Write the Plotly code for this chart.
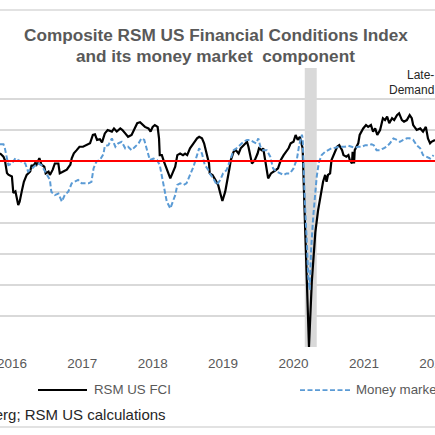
import plotly.graph_objects as go

# ---- data (decimal years, index values) ----
fci_x = [2015.83, 2015.88, 2015.90, 2015.93, 2015.95, 2016.00, 2016.02, 2016.05, 2016.09, 2016.11,
         2016.14, 2016.17, 2016.21, 2016.26, 2016.28, 2016.30, 2016.33, 2016.35, 2016.39, 2016.42,
         2016.46, 2016.48, 2016.52, 2016.54, 2016.58, 2016.61, 2016.66, 2016.68, 2016.73, 2016.78,
         2016.81, 2016.83, 2016.85, 2016.88, 2016.92, 2016.96, 2017.01, 2017.06, 2017.11, 2017.15,
         2017.18, 2017.21, 2017.25, 2017.28, 2017.32, 2017.36, 2017.42, 2017.45, 2017.49, 2017.54,
         2017.57, 2017.61, 2017.65, 2017.70, 2017.75, 2017.78, 2017.82, 2017.86, 2017.89, 2017.94,
         2017.97, 2018.00, 2018.03, 2018.07, 2018.09, 2018.10, 2018.13, 2018.16, 2018.20, 2018.25,
         2018.28, 2018.32, 2018.35, 2018.39, 2018.43, 2018.46, 2018.49, 2018.53, 2018.58, 2018.63,
         2018.66, 2018.70, 2018.73, 2018.77, 2018.80, 2018.81, 2018.85, 2018.89, 2018.93, 2018.96,
         2018.99, 2019.03, 2019.06, 2019.09, 2019.11, 2019.15, 2019.18, 2019.22, 2019.25, 2019.29,
         2019.34, 2019.36, 2019.38, 2019.41, 2019.45, 2019.49, 2019.51, 2019.55, 2019.57, 2019.60,
         2019.62, 2019.64, 2019.68, 2019.71, 2019.75, 2019.78, 2019.82, 2019.86, 2019.89, 2019.93,
         2019.96, 2020.00, 2020.03, 2020.06, 2020.09, 2020.11, 2020.13, 2020.16, 2020.19, 2020.21,
         2020.22, 2020.26, 2020.31, 2020.35, 2020.40, 2020.42, 2020.45, 2020.47, 2020.49, 2020.52,
         2020.54, 2020.57, 2020.59, 2020.62, 2020.65, 2020.69, 2020.71, 2020.75, 2020.78, 2020.80,
         2020.83, 2020.84, 2020.86, 2020.87, 2020.92, 2020.94, 2020.99, 2021.03, 2021.06, 2021.10,
         2021.13, 2021.16, 2021.19, 2021.23, 2021.27, 2021.30, 2021.33, 2021.36, 2021.40, 2021.43,
         2021.47, 2021.50, 2021.54, 2021.57, 2021.61, 2021.65, 2021.68, 2021.70, 2021.75, 2021.80,
         2021.84, 2021.88, 2021.91, 2021.94, 2021.96, 2022.01]
fci_y = [0.25, 0.14, 0.03, -0.39, -0.44, -0.50, -1.03, -0.98, -1.42, -1.31,
         -0.98, -0.67, -0.45, -0.34, -0.13, -0.18, -0.07, -0.12, 0.09, -0.12,
         -0.18, -0.40, -0.34, -0.45, -0.28, -0.08, -0.08, -0.40, -0.34, -0.28,
         -0.18, -0.12, 0.09, 0.25, 0.35, 0.46, 0.46, 0.52, 0.57, 0.84,
         0.86, 0.68, 0.70, 0.60, 0.89, 1.00, 0.95, 1.05, 0.95, 1.05,
         1.00, 0.89, 0.78, 0.84, 1.10, 1.22, 1.25, 1.16, 1.10, 1.05,
         0.95, 1.10, 1.16, 1.10, 0.73, 0.19, 0.19, -0.02, -0.24, -0.56,
         -0.40, -0.18, 0.19, 0.24, 0.19, 0.24, 0.19, 0.41, 0.57, 0.73,
         0.78, 0.73, 0.57, 0.15, -0.08, -0.40, -0.45, -0.61, -0.77, -1.04,
         -1.29, -0.99, -0.67, -0.24, 0.03, 0.30, 0.35, 0.24, 0.41, 0.51,
         0.62, 0.46, 0.19, -0.08, 0.03, 0.24, 0.41, 0.35, 0.41, 0.03,
         -0.34, -0.56, -0.40, -0.34, -0.29, -0.24, 0.03, 0.19, 0.30, 0.41,
         0.57, 0.62, 0.84, 0.68, 0.78, 0.62, 0.41, -1.80, -3.90, -5.60,
         -6.00, -3.90, -2.30, -1.58, -0.83, -0.67, -0.45, -0.67, -0.45, -0.40,
         0.03, 0.19, 0.35, 0.46, 0.51, 0.35, 0.19, 0.14, 0.19, 0.03,
         -0.08, 0.30, -0.08, 0.35, 0.57, 0.84, 1.05, 1.16, 1.10, 1.16,
         0.95, 1.05, 0.84, 1.00, 1.38, 1.32, 1.43, 1.22, 1.38, 1.32,
         1.48, 1.54, 1.32, 1.27, 1.32, 1.48, 1.38, 1.16, 1.00, 1.05,
         0.95, 1.10, 0.73, 0.57, 0.62, 0.68]

mm_x = [2015.83, 2015.88, 2015.90, 2015.95, 2016.00, 2016.05, 2016.09, 2016.14, 2016.19, 2016.23,
        2016.28, 2016.33, 2016.37, 2016.42, 2016.49, 2016.54, 2016.56, 2016.61, 2016.66, 2016.71,
        2016.75, 2016.80, 2016.85, 2016.90, 2016.94, 2016.99, 2017.04, 2017.09, 2017.13, 2017.16,
        2017.20, 2017.25, 2017.30, 2017.32, 2017.37, 2017.42, 2017.47, 2017.51, 2017.56, 2017.61,
        2017.65, 2017.70, 2017.75, 2017.80, 2017.84, 2017.88, 2017.92, 2017.96, 2018.01, 2018.06,
        2018.10, 2018.15, 2018.20, 2018.25, 2018.28, 2018.32, 2018.35, 2018.39, 2018.44, 2018.48,
        2018.53, 2018.58, 2018.63, 2018.66, 2018.70, 2018.74, 2018.79, 2018.81, 2018.86, 2018.91,
        2018.96, 2019.00, 2019.05, 2019.10, 2019.15, 2019.19, 2019.24, 2019.29, 2019.34, 2019.38,
        2019.43, 2019.47, 2019.50, 2019.53, 2019.57, 2019.62, 2019.67, 2019.71, 2019.76, 2019.81,
        2019.86, 2019.90, 2019.95, 2020.00, 2020.05, 2020.08, 2020.12, 2020.13, 2020.14, 2020.16,
        2020.19, 2020.21, 2020.23, 2020.25, 2020.28, 2020.33, 2020.36, 2020.40, 2020.45, 2020.49,
        2020.54, 2020.59, 2020.64, 2020.69, 2020.73, 2020.78, 2020.83, 2020.87, 2020.92, 2020.97,
        2021.02, 2021.06, 2021.11, 2021.14, 2021.18, 2021.23, 2021.28, 2021.32, 2021.37, 2021.42,
        2021.47, 2021.51, 2021.56, 2021.61, 2021.65, 2021.70, 2021.75, 2021.80, 2021.84, 2021.89,
        2021.94, 2021.99]
mm_y = [0.54, 0.54, 0.41, -0.13, -0.08, 0.09, 0.03, -0.02, -0.08, -0.34,
        -0.24, -0.13, -0.08, -0.13, -0.40, -0.61, -0.99, -1.10, -1.05, -1.31,
        -1.10, -0.99, -0.72, -0.67, -0.61, -0.72, -0.72, -0.72, -0.67, -0.24,
        -0.02, 0.03, 0.22, 0.48, 0.51, 0.73, 0.46, 0.57, 0.62, 0.41,
        0.46, 0.35, 0.46, 0.57, 0.73, 0.68, 0.35, 0.03, 0.08, 0.03,
        -0.13, -0.67, -1.31, -1.53, -1.37, -1.10, -0.77, -0.72, -0.77, -0.72,
        -0.45, -0.18, 0.19, 0.41, 0.24, -0.13, -0.29, -0.40, -0.56, -0.77,
        -0.61, -0.40, -0.29, 0.03, 0.35, 0.41, 0.51, 0.62, 0.68, 0.68,
        0.62, 0.57, 0.73, 0.46, 0.35, 0.35, 0.14, -0.24, -0.34, -0.40,
        -0.45, -0.40, -0.40, -0.24, 0.08, 0.51, 0.85, 0.73, -0.07, -1.26,
        -2.65, -3.73, -4.16, -2.87, -1.80, -0.50, -0.05, 0.19, 0.30, 0.35,
        0.41, 0.43, 0.46, 0.46, 0.46, 0.49, 0.46, 0.43, 0.46, 0.46,
        0.51, 0.51, 0.54, 0.51, 0.35, 0.35, 0.41, 0.46, 0.57, 0.73,
        0.68, 0.62, 0.68, 0.73, 0.73, 0.68, 0.51, 0.41, 0.19, 0.14,
        0.08, 0.19]

year_ticks = [2016, 2017, 2018, 2019, 2020, 2021, 2022]
year_labels = ["2016", "2017", "2018", "2019", "2020", "2021", "2022"]
recession = [2020.16, 2020.33]
x_range = [2015.831, 2022.01]
y_range = [-6, 3]

GRAY = "#595959"
GRID = "#d9d9d9"
BLUE = "#5b9bd5"
FONT = "Liberation Sans, Arial, sans-serif"

fig = go.Figure()
fig.add_trace(go.Scatter(x=fci_x, y=fci_y, mode="lines", name="RSM US FCI",
                         line=dict(color="#000000", width=2.2)))
fig.add_trace(go.Scatter(x=mm_x, y=mm_y, mode="lines", name="Money market",
                         line=dict(color=BLUE, width=2, dash="5px,2.5px")))

# recession shading
fig.add_shape(type="rect", xref="x", yref="paper", x0=recession[0], x1=recession[1], y0=0, y1=1,
              fillcolor=GRID, line=dict(width=0), layer="below")
# zero line
fig.add_shape(type="line", xref="paper", yref="y", x0=0, x1=1, y0=0, y1=0,
              line=dict(color="#ff0000", width=2))
# outer frame lines (top/bottom)
fig.add_shape(type="line", xref="paper", yref="paper", x0=0, x1=1, y0=(347-10)/279, y1=(347-10)/279,
              line=dict(color=GRID, width=1.5))
fig.add_shape(type="line", xref="paper", yref="paper", x0=0, x1=1, y0=(347-427)/279, y1=(347-427)/279,
              line=dict(color=GRID, width=1.5))

def px_x(p):
    return p / 435.0

def px_y(p):
    return (347 - p) / 279.0

# title
fig.add_annotation(text="<b>Composite RSM US Financial Conditions Index</b>", xref="paper", yref="paper",
                   x=px_x(215.5), y=px_y(35), xanchor="center", yanchor="middle", showarrow=False,
                   font=dict(family=FONT, size=17.2, color=GRAY))
fig.add_annotation(text="<b>and its money market  component</b>", xref="paper", yref="paper",
                   x=px_x(215.5), y=px_y(56), xanchor="center", yanchor="middle", showarrow=False,
                   font=dict(family=FONT, size=17.2, color=GRAY))
# Late- / Demand
fig.add_annotation(text="Late-", xref="paper", yref="paper", x=px_x(435), y=px_y(83),
                   xanchor="right", yanchor="bottom", showarrow=False, borderpad=0,
                   font=dict(family=FONT, size=12, color="#262626"))
fig.add_annotation(text="Demand", xref="paper", yref="paper", x=px_x(435), y=px_y(82),
                   xanchor="right", yanchor="top", showarrow=False, borderpad=0,
                   font=dict(family=FONT, size=12, color="#262626"))

# legend (manual)
fig.add_shape(type="line", xref="paper", yref="paper", x0=px_x(38), x1=px_x(87), y0=px_y(390), y1=px_y(390),
              line=dict(color="#000000", width=2))
fig.add_annotation(text="RSM US FCI", xref="paper", yref="paper", x=px_x(92), y=px_y(389),
                   xanchor="left", yanchor="middle", showarrow=False,
                   font=dict(family=FONT, size=13.3, color=GRAY))
fig.add_shape(type="line", xref="paper", yref="paper", x0=px_x(300), x1=px_x(350), y0=px_y(390), y1=px_y(390),
              line=dict(color=BLUE, width=1.75, dash="5px,2.5px"))
fig.add_annotation(text="Money market", xref="paper", yref="paper", x=px_x(354), y=px_y(389),
                   xanchor="left", yanchor="middle", showarrow=False,
                   font=dict(family=FONT, size=13.3, color=GRAY))
# source
fig.add_annotation(text="Source: Bloomberg; RSM US calculations", xref="paper", yref="paper",
                   x=px_x(168), y=px_y(414), xanchor="right", yanchor="middle", showarrow=False,
                   font=dict(family=FONT, size=15, color="#262626"))

fig.update_layout(
    width=435, height=435,
    margin=dict(l=0, r=0, t=68, b=88, pad=0, autoexpand=False),
    paper_bgcolor="white", plot_bgcolor="white",
    showlegend=False,
    xaxis=dict(range=x_range, tickvals=year_ticks, ticktext=year_labels, showgrid=False,
               zeroline=False, showline=False, ticks="", ticklabeloverflow="allow", automargin=False,
               tickfont=dict(family=FONT, size=13.5, color=GRAY), ticklabelstandoff=6),
    yaxis=dict(range=y_range, dtick=1, showgrid=True, gridcolor=GRID, gridwidth=1.5, automargin=False,
               zeroline=False, showline=False, showticklabels=False, ticks=""),
)

fig.write_html("out.html", config={"displayModeBar": False},
               post_script="document.body.style.margin='0px';")
